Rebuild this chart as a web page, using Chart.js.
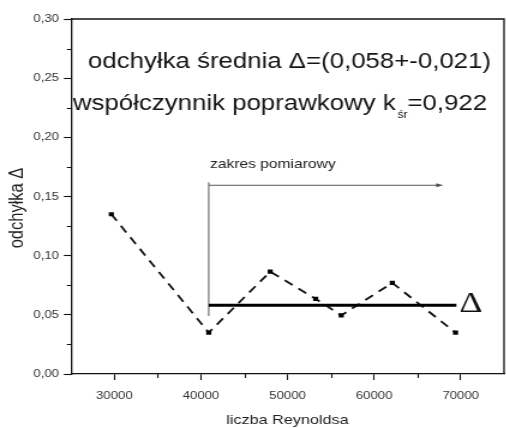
<!DOCTYPE html>
<html lang="pl">
<head>
<meta charset="utf-8">
<title>odchyłka średnia</title>
<script src="https://cdn.jsdelivr.net/npm/chart.js@4/dist/chart.umd.min.js"></script>
<style>
  html, body { margin: 0; padding: 0; background: #fff; overflow: hidden; }
  #wrap { width: 506px; height: 428px; overflow: hidden; }
  /* the figure is laid out on a narrower canvas and stretched horizontally */
  #chart { display: block; transform: scaleX(1.2); transform-origin: 0 0; }
</style>
</head>
<body>
<div id="wrap"><canvas id="chart" width="424" height="428"></canvas></div>
<script>
// Measured deviation against Reynolds number
const reynolds  = [29650, 40900, 48000, 53250, 56200, 62100, 69400];
const deviation = [0.135, 0.035, 0.0865, 0.0635, 0.0495, 0.077, 0.035];

// Mean deviation over the measuring range
const meanDeviation = 0.058;
const meanRange = [40900, 69500];

// Bracket marking the measuring range
const rangeStart = 40900;
const rangeBottom = 0.049;
const rangeTop = 0.162;
const rangeArrowY = 0.1595;
const rangeArrowEnd = 67300;

// Axis ticks
const xTicks = [30000, 40000, 50000, 60000, 70000];
const xMinorTicks = [35000, 45000, 55000, 65000];
const yTicks = [0.00, 0.05, 0.10, 0.15, 0.20, 0.25, 0.30];
const yMinorTicks = [0.025, 0.075, 0.125, 0.175, 0.225, 0.275];

// Texts
const xTitle = 'liczba Reynoldsa';
const yTitle = 'odchyłka \u0394';
const meanText = 'odchyłka średnia \u0394=(0,058+-0,021)';
const coefText = 'współczynnik poprawkowy k';
const coefSub = 'śr';
const coefValue = '=0,922';
const rangeText = 'zakres pomiarowy';
const meanMark = '\u0394';

const SANS = '"Liberation Sans", Arial, Helvetica, sans-serif';
const SERIF = '"Liberation Serif", "Times New Roman", serif';

const overlay = {
  id: 'overlay',
  afterDraw(chart) {
    const { ctx, chartArea: a, scales: { x, y } } = chart;
    ctx.save();

    // frame: top and right edges
    ctx.strokeStyle = '#111';
    ctx.lineWidth = 1.3;
    ctx.beginPath();
    ctx.moveTo(a.left, a.top);
    ctx.lineTo(a.right, a.top);
    ctx.lineTo(a.right, a.bottom);
    ctx.stroke();

    // minor ticks
    ctx.lineWidth = 1.1;
    ctx.beginPath();
    xMinorTicks.forEach(v => {
      const px = Math.round(x.getPixelForValue(v)) + 0.5;
      ctx.moveTo(px, a.bottom);
      ctx.lineTo(px, a.bottom + 4);
    });
    yMinorTicks.forEach(v => {
      const py = Math.round(y.getPixelForValue(v)) + 0.5;
      ctx.moveTo(a.left - 3.5, py);
      ctx.lineTo(a.left, py);
    });
    ctx.stroke();

    // arrow head of the measuring range
    const ex = x.getPixelForValue(rangeArrowEnd);
    const ey = y.getPixelForValue(rangeArrowY);
    ctx.fillStyle = '#555';
    ctx.beginPath();
    ctx.moveTo(ex + 5, ey);
    ctx.lineTo(ex - 1, ey - 2);
    ctx.lineTo(ex - 1, ey + 2);
    ctx.closePath();
    ctx.fill();

    // range label
    ctx.fillStyle = '#222';
    ctx.textAlign = 'left';
    ctx.textBaseline = 'alphabetic';
    ctx.font = '13px ' + SANS;
    ctx.fillText(rangeText, x.getPixelForValue(rangeStart) + 1, 167.5);

    // headline texts
    ctx.fillStyle = '#141414';
    ctx.font = '21.5px ' + SANS;
    ctx.fillText(meanText, 73.3, 68);
    const cx = 60.8;
    ctx.fillText(coefText, cx, 110);
    const w1 = ctx.measureText(coefText).width;
    ctx.font = '10px ' + SANS;
    ctx.fillText(coefSub, cx + w1 + 1.5, 117.5);
    const w2 = ctx.measureText(coefSub).width;
    ctx.font = '21.5px ' + SANS;
    ctx.fillText(coefValue, cx + w1 + 1.5 + w2, 110);

    // mean marker next to the mean line
    ctx.font = '30px ' + SERIF;
    ctx.fillStyle = '#111';
    ctx.fillText(meanMark, x.getPixelForValue(meanRange[1]) + 2.5, y.getPixelForValue(meanDeviation) + 6.5);

    // y axis title
    ctx.save();
    ctx.translate(14.2, 208);
    ctx.rotate(-Math.PI / 2);
    ctx.textAlign = 'center';
    ctx.textBaseline = 'middle';
    ctx.font = '16.5px ' + SANS;
    ctx.fillStyle = '#222';
    ctx.fillText(yTitle, 0, 0);
    ctx.restore();

    ctx.restore();
  }
};

new Chart(document.getElementById('chart'), {
  type: 'scatter',
  data: {
    datasets: [
      {
        data: reynolds.map((r, i) => ({ x: r, y: deviation[i] })),
        showLine: true,
        borderColor: '#111',
        borderWidth: 1.8,
        borderDash: [8, 6],
        pointStyle: 'rect',
        pointRadius: 3,
        pointBackgroundColor: '#000',
        pointBorderColor: '#000',
        pointBorderWidth: 0,
        order: 2
      },
      {
        data: meanRange.map(r => ({ x: r, y: meanDeviation })),
        showLine: true,
        borderColor: '#000',
        borderWidth: 3,
        pointRadius: 0,
        order: 1
      },
      {
        data: [{ x: rangeStart, y: rangeBottom }, { x: rangeStart, y: rangeTop }],
        showLine: true,
        borderColor: '#555',
        borderWidth: 1,
        pointRadius: 0,
        order: 3
      },
      {
        data: [{ x: rangeStart, y: rangeArrowY }, { x: rangeArrowEnd, y: rangeArrowY }],
        showLine: true,
        borderColor: '#555',
        borderWidth: 1,
        pointRadius: 0,
        order: 3
      }
    ]
  },
  options: {
    responsive: false,
    animation: false,
    devicePixelRatio: 1,
    layout: { padding: { top: 19, right: 0, bottom: 0, left: 0 } },
    plugins: { legend: { display: false }, tooltip: { enabled: false } },
    scales: {
      x: {
        type: 'linear',
        min: 25000,
        max: 75000,
        afterBuildTicks: s => { s.ticks = xTicks.map(v => ({ value: v })); },
        afterFit: s => { s.height = 54; s.paddingLeft = 0; s.paddingRight = 0; },
        ticks: {
          callback: v => String(v),
          color: '#333',
          font: { family: SANS, size: 11 },
          padding: 9,
          maxRotation: 0,
          autoSkip: false
        },
        grid: { drawOnChartArea: false, drawTicks: true, tickLength: 6, tickColor: '#111', tickWidth: 1.1 },
        border: { display: true, color: '#111', width: 1.3 },
        title: { display: true, text: xTitle, color: '#222', font: { family: SANS, size: 13.5 }, padding: { top: 0, bottom: 0 } }
      },
      y: {
        type: 'linear',
        min: 0,
        max: 0.30,
        afterBuildTicks: s => { s.ticks = yTicks.map(v => ({ value: v })); },
        afterFit: s => { s.width = 59.2; s.paddingTop = 0; s.paddingBottom = 0; },
        ticks: {
          callback: v => v.toFixed(2).replace('.', ','),
          color: '#333',
          font: { family: SANS, size: 11 },
          padding: 4,
          autoSkip: false
        },
        grid: { drawOnChartArea: false, drawTicks: true, tickLength: 6, tickColor: '#111', tickWidth: 1.1 },
        border: { display: true, color: '#111', width: 1.3 }
      }
    }
  },
  plugins: [overlay]
});
</script>
</body>
</html>
